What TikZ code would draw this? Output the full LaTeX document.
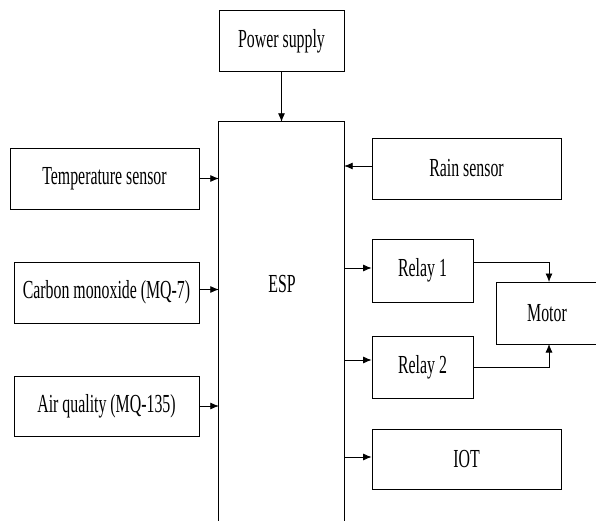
\documentclass[tikz,border=0pt]{standalone}
\usepackage{fontspec}
\setmainfont[FakeStretch=0.61]{Liberation Serif}
\usetikzlibrary{arrows.meta,calc}
\begin{document}
\begin{tikzpicture}[x=1pt,y=-1pt,
  box/.style={draw=black,line width=0.8pt,rectangle,inner sep=0pt,align=center,
    font=\fontsize{26}{30}\selectfont},
  arr/.style={draw=black,line width=0.8pt,-{Latex[length=8.5pt,width=7pt]}},
  ln/.style={draw=black,line width=0.8pt}]
\clip (0,0) rectangle (596,521);
\fill[white] (0,0) rectangle (596,521);
% nodes
\node[box,minimum width=125,minimum height=61] (power) at (281.5,41) {Power supply};
\node[inner sep=0pt,minimum width=125,minimum height=410] (esp) at (281.5,327) {};
\node[font=\fontsize{26}{30}\selectfont] (esplabel) at (282,284) {ESP};
\node[box,minimum width=189,minimum height=61] (temp) at (104.5,178.5) {Temperature sensor};
\node[box,minimum width=185,minimum height=61] (co) at (106.5,292.5) {Carbon monoxide (MQ-7)};
\node[box,minimum width=185,minimum height=60] (air) at (106.5,406) {Air quality (MQ-135)};
\node[box,minimum width=189,minimum height=61] (rain) at (466.5,168.5) {Rain sensor};
\node[box,minimum width=101,minimum height=63] (relay1) at (422.5,270.5) {Relay 1};
\node[box,minimum width=101,minimum height=62] (relay2) at (422.5,367) {Relay 2};
\node[box,minimum width=102,minimum height=62,text width=102,xshift=-2] (motor) at (549,313) {Motor};
\node[box,minimum width=189,minimum height=60] (iot) at (466.5,459) {IOT};
% ESP box (open at bottom)
\draw[ln] (esp.south west) -- (esp.north west) -- (esp.north east) -- (esp.south east);
% connectors
\draw[arr] (power.south) -- (power.south |- esp.north);
\draw[arr] (temp.east) -- (temp.east -| esp.west);
\draw[arr] ($(co.east)+(0,-3)$) -- ($(co.east -| esp.west)+(0,-3)$);
\draw[arr] (air.east) -- (air.east -| esp.west);
\draw[arr] ($(rain.west)+(0,-2.5)$) -- ($(rain.west -| esp.east)+(0,-2.5)$);
\draw[arr] ($(relay1.west -| esp.east)+(0,-2.5)$) -- ($(relay1.west)+(0,-2.5)$);
\draw[arr] ($(relay2.west -| esp.east)+(0,-7)$) -- ($(relay2.west)+(0,-7)$);
\draw[arr] ($(iot.west -| esp.east)+(0,-2)$) -- ($(iot.west)+(0,-2)$);
\coordinate (r1out) at ($(relay1.east)+(0,-8.5)$);
\coordinate (r2out) at (relay2.east);
\coordinate (mtop) at (549,282);
\coordinate (mbot) at (549,344);
\draw[arr] (r1out) -| (mtop);
\draw[arr] (r2out) -| (mbot);
\end{tikzpicture}
\end{document}
